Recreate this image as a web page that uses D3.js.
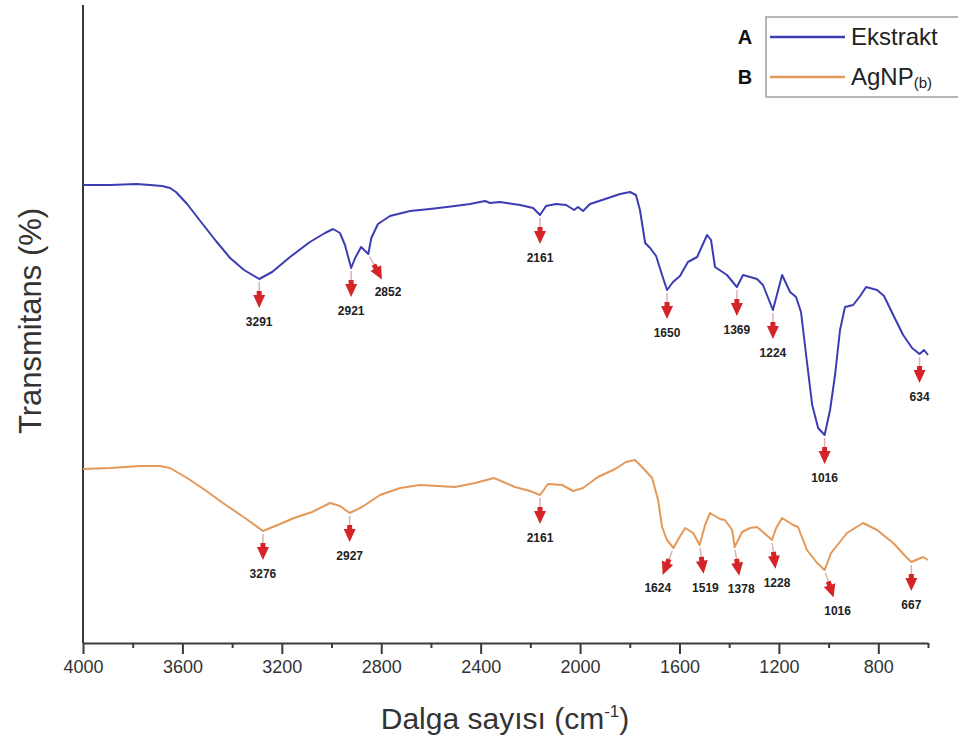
<!DOCTYPE html>
<html>
<head>
<meta charset="utf-8">
<script src="https://cdn.jsdelivr.net/npm/d3@7"></script>
<style>
  body { margin: 0; background: #fff; }
  text { font-family: "Liberation Sans", Arial, sans-serif; }
</style>
</head>
<body>
<svg width="958" height="753"></svg>
<script>
// Ekstrakt (A) spectrum: wavenumber (cm-1) and transmittance (a.u.)
const wnA = [4000, 3891, 3783, 3730, 3682, 3650, 3626, 3581, 3525, 3465, 3408, 3352, 3291, 3239, 3167, 3087, 3026, 2994, 2966, 2946, 2921, 2905, 2881, 2852, 2840, 2813, 2765, 2684, 2604, 2503, 2443, 2382, 2362, 2322, 2241, 2189, 2161, 2137, 2097, 2056, 2024, 2008, 1988, 1960, 1899, 1839, 1799, 1775, 1759, 1738, 1718, 1694, 1670, 1650, 1626, 1598, 1566, 1529, 1489, 1473, 1457, 1409, 1369, 1344, 1316, 1288, 1264, 1224, 1187, 1155, 1131, 1111, 1087, 1066, 1042, 1016, 994, 974, 954, 934, 901, 873, 849, 805, 777, 740, 700, 664, 634, 616, 600];
const tA = [91.6, 91.6, 91.8, 91.6, 91.4, 91.0, 90.2, 87.8, 84.2, 80.4, 77.0, 74.6, 72.8, 74.2, 77.2, 80.2, 82.0, 82.8, 82.0, 79.6, 75.0, 77.0, 79.2, 77.8, 81.0, 83.8, 85.4, 86.4, 86.8, 87.4, 87.8, 88.4, 88.0, 88.2, 87.6, 87.0, 85.6, 87.4, 87.8, 87.6, 86.6, 87.2, 86.4, 87.8, 88.8, 89.8, 90.2, 89.6, 86.6, 80.0, 79.0, 77.4, 73.6, 70.6, 72.2, 73.4, 76.2, 77.2, 81.6, 80.6, 75.2, 73.6, 71.2, 73.6, 73.2, 72.8, 71.6, 66.6, 73.6, 70.2, 69.2, 66.2, 56.2, 47.6, 43.0, 41.6, 46.6, 53.6, 62.6, 67.2, 67.6, 69.4, 71.2, 70.6, 69.4, 65.6, 61.6, 59.0, 57.8, 58.6, 57.6];

// AgNP(b) (B) spectrum
const wnB = [4000, 3891, 3771, 3690, 3650, 3581, 3509, 3437, 3348, 3276, 3207, 3151, 3078, 3006, 2966, 2927, 2877, 2805, 2724, 2644, 2503, 2422, 2346, 2262, 2201, 2161, 2129, 2072, 2028, 1988, 1928, 1859, 1815, 1779, 1747, 1710, 1686, 1670, 1650, 1624, 1602, 1577, 1545, 1519, 1497, 1477, 1437, 1417, 1388, 1378, 1348, 1316, 1288, 1264, 1228, 1211, 1187, 1143, 1123, 1087, 1046, 1016, 990, 926, 861, 805, 740, 684, 667, 620, 600];
const tB = [34.8, 35.0, 35.4, 35.4, 35.0, 33.0, 30.6, 28.0, 25.0, 22.4, 23.8, 25.0, 26.2, 28.0, 27.4, 26.0, 27.2, 29.6, 31.0, 31.6, 31.2, 32.0, 33.0, 31.2, 30.4, 29.6, 31.8, 31.6, 30.4, 31.0, 33.2, 34.8, 36.2, 36.6, 35.0, 33.0, 28.6, 23.2, 20.6, 19.0, 21.0, 23.0, 22.0, 19.6, 23.6, 26.0, 24.8, 24.6, 22.6, 19.2, 22.2, 23.0, 23.2, 22.2, 20.6, 23.0, 25.0, 23.6, 23.2, 18.6, 16.0, 14.6, 18.0, 22.0, 24.0, 22.6, 20.0, 17.0, 16.2, 17.2, 16.6];

// labelled band positions
const peaksA = [3291, 2921, 2852, 2161, 1650, 1369, 1224, 1016, 634];
const peaksB = [3276, 2927, 2161, 1624, 1519, 1378, 1228, 1016, 667];

const xTicks = [4000, 3600, 3200, 2800, 2400, 2000, 1600, 1200, 800];
const xMinor = [3800, 3400, 3000, 2600, 2200, 1800, 1400, 1000, 600];
const seriesNames = ['Ekstrakt', 'AgNP'];
const seriesKeys = ['A', 'B'];

const svg = d3.select('svg');
const mLeft = 83, mRight = 928, mTop = 3, mBottom = 643;
const x = d3.scaleLinear().domain([4000, 600]).range([mLeft, mRight]);
const y = d3.scaleLinear().domain([0, 128]).range([mBottom, mTop]);
const colors = ['#3c3cb4', '#e3995a'];

// left axis line (no ticks)
svg.append('line')
    .attr('x1', mLeft).attr('x2', mLeft)
    .attr('y1', 5).attr('y2', mBottom)
    .attr('stroke', '#3a3a3a').attr('stroke-width', 2);

// bottom axis
const gx = svg.append('g').attr('transform', `translate(0,${mBottom})`);
gx.call(d3.axisBottom(x).tickValues(xTicks).tickSize(11).tickSizeOuter(0).tickPadding(6).tickFormat(d3.format('d')));
gx.select('.domain').attr('stroke', '#3a3a3a').attr('stroke-width', 2);
gx.selectAll('.tick line').attr('stroke', '#3a3a3a').attr('stroke-width', 2);
gx.selectAll('.tick text')
    .attr('fill', '#333')
    .style('font-size', '18px')
    .style('font-family', '"Liberation Sans", Arial, sans-serif');
const gm = svg.append('g').attr('transform', `translate(0,${mBottom})`);
gm.call(d3.axisBottom(x).tickValues(xMinor).tickSize(5).tickFormat(''));
gm.select('.domain').remove();
gm.selectAll('.tick line').attr('stroke', '#3a3a3a').attr('stroke-width', 2);

// axis titles
const xt = svg.append('text')
    .attr('x', 505).attr('y', 729)
    .attr('text-anchor', 'middle')
    .attr('fill', '#333')
    .style('font-size', '30px');
xt.append('tspan').text('Dalga sayısı (cm');
xt.append('tspan').text('-1').attr('dy', -12).style('font-size', '17px');
xt.append('tspan').text(')').attr('dy', 12);

svg.append('text')
    .attr('transform', 'translate(41,321) rotate(-90)')
    .attr('text-anchor', 'middle')
    .attr('fill', '#333')
    .style('font-size', '31px')
    .text('Transmitans (%)');

// spectra
const line = d3.line().x(d => x(d[0])).y(d => y(d[1]));
const specA = wnA.map((w, i) => [w, tA[i]]);
const specB = wnB.map((w, i) => [w, tB[i]]);
[specA, specB].forEach((s, i) => {
    svg.append('path')
        .datum(s)
        .attr('d', line)
        .attr('fill', 'none')
        .attr('stroke', colors[i])
        .attr('stroke-width', 2)
        .attr('stroke-linejoin', 'round');
});

// value of a spectrum at a wavenumber (linear interpolation)
function valueAt(wn, tv, w) {
    for (let i = 0; i < wn.length - 1; i++) {
        if (w <= wn[i] && w >= wn[i + 1]) {
            const f = (wn[i] - w) / (wn[i] - wn[i + 1]);
            return tv[i] + f * (tv[i + 1] - tv[i]);
        }
    }
    return tv[tv.length - 1];
}

// arrow tilt, degrees towards the right
const tilt = { 'A2852': 28, 'B1624': -22, 'B1519': 8, 'B1378': 9, 'B1228': 7, 'B1016': 18 };

function drawPeaks(peaks, wn, tv, key) {
    peaks.forEach(p => {
        const deg = tilt[key + p] || 0;
        const a = deg * Math.PI / 180;
        const px = x(p), py = y(valueAt(wn, tv, p));
        const g = svg.append('g')
            .attr('transform', `translate(${px},${py}) rotate(${-deg})`);
        g.append('line')
            .attr('x1', 0).attr('x2', 0).attr('y1', 3).attr('y2', 14)
            .attr('stroke', '#d8b4b4').attr('stroke-width', 1.5);
        g.append('path')
            .attr('d', 'M-2.5,12 L2.5,12 L2.5,16 L6,16 L0,29 L-6,16 L-2.5,16 Z')
            .attr('fill', '#d42428');
        svg.append('text')
            .attr('x', px + Math.sin(a) * 42)
            .attr('y', py + Math.cos(a) * 42 + 5)
            .attr('text-anchor', 'middle')
            .attr('fill', '#222')
            .style('font-size', '12px')
            .style('font-weight', 'bold')
            .text(p);
    });
}
drawPeaks(peaksA, wnA, tA, 'A');
drawPeaks(peaksB, wnB, tB, 'B');

// legend
svg.append('rect')
    .attr('x', 766).attr('y', 17).attr('width', 200).attr('height', 80)
    .attr('fill', '#fff').attr('stroke', '#a0a0a0').attr('stroke-width', 1.5);
seriesNames.forEach((n, i) => {
    const ly = 37 + i * 40;
    svg.append('text')
        .attr('x', 745).attr('y', ly + 7)
        .attr('text-anchor', 'middle')
        .attr('fill', '#111')
        .style('font-size', '20px').style('font-weight', 'bold')
        .text(seriesKeys[i]);
    svg.append('line')
        .attr('x1', 770).attr('x2', 845).attr('y1', ly).attr('y2', ly)
        .attr('stroke', colors[i]).attr('stroke-width', 2.5);
    const t = svg.append('text')
        .attr('x', 851).attr('y', ly + 8)
        .attr('fill', '#222')
        .style('font-size', '24px')
        .text(n);
    if (i === 1) t.append('tspan').text('(b)').attr('dy', 3).style('font-size', '15px');
});
</script>
</body>
</html>
